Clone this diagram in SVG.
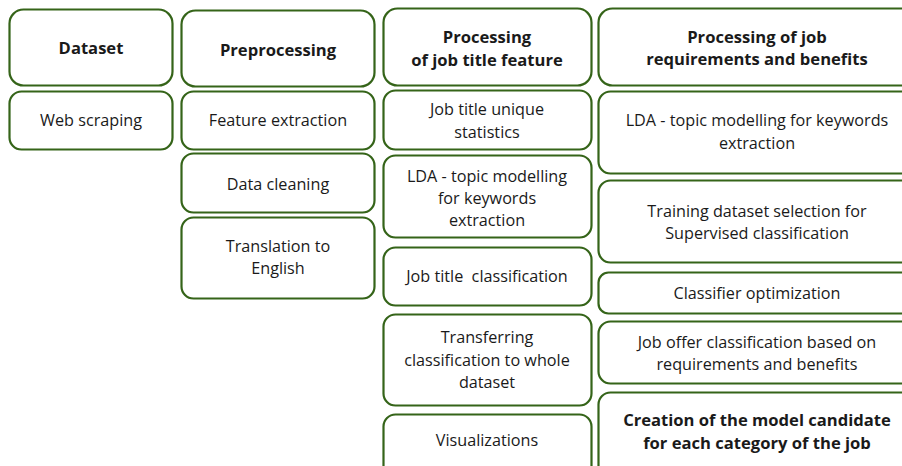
<svg xmlns="http://www.w3.org/2000/svg" width="902" height="466" viewBox="0 0 902 466">
<style>
.b{fill:#fff;stroke:#356419;stroke-width:2.2}
text{font-family:"Open Sans","Noto Sans",sans-serif;font-size:16.2px;fill:#1a1a1a;text-anchor:middle}
.h{font-weight:bold;font-size:16.6px}
</style>
<rect width="902" height="466" fill="#fff"/>
<g id="connectors"/>
<g id="dataset"><rect class="b" x="9.5" y="9.5" width="163" height="76" rx="14"/><text class="h" x="91" y="54">Dataset</text></g>
<g id="web-scraping"><rect class="b" x="9.5" y="91.5" width="163" height="58" rx="12"/><text x="91" y="126">Web scraping</text></g>
<g id="preprocessing"><rect class="b" x="181.5" y="10.5" width="193" height="76" rx="14"/><text class="h" x="278" y="56">Preprocessing</text></g>
<g id="feature-extraction"><rect class="b" x="181.5" y="91.5" width="193" height="58" rx="12"/><text x="278" y="126">Feature extraction</text></g>
<g id="data-cleaning"><rect class="b" x="181.5" y="153.5" width="193" height="59" rx="12"/><text x="278" y="190">Data cleaning</text></g>
<g id="translation"><rect class="b" x="181.5" y="217.5" width="193" height="81" rx="12"/><text x="278" y="252">Translation to</text><text x="278" y="274">English</text></g>
<g id="processing-title"><rect class="b" x="383.5" y="8.5" width="208" height="77" rx="14"/><text class="h" x="487" y="43">Processing</text><text class="h" x="487" y="66">of job title feature</text></g>
<g id="unique-stats"><rect class="b" x="383.5" y="90.5" width="208" height="59" rx="12"/><text x="487" y="115">Job title unique</text><text x="487" y="138">statistics</text></g>
<g id="lda-title"><rect class="b" x="383.5" y="155.5" width="208" height="82" rx="12"/><text x="487" y="182">LDA - topic modelling</text><text x="487" y="204">for keywords</text><text x="487" y="226">extraction</text></g>
<g id="title-classification"><rect class="b" x="383.5" y="247.5" width="208" height="58" rx="12"/><text x="487" y="282" xml:space="preserve">Job title  classification</text></g>
<g id="transferring"><rect class="b" x="383.5" y="314.5" width="208" height="91" rx="12"/><text x="487" y="343">Transferring</text><text x="487" y="366">classification to whole</text><text x="487" y="388">dataset</text></g>
<g id="visualizations"><rect class="b" x="383.5" y="414.5" width="208" height="70" rx="12"/><text x="487" y="446">Visualizations</text></g>
<g id="processing-req"><rect class="b" x="598.5" y="8.5" width="318" height="77" rx="14"/><text class="h" x="757" y="43">Processing of job</text><text class="h" x="757" y="65">requirements and benefits</text></g>
<g id="lda-req"><rect class="b" x="598.5" y="91.5" width="318" height="82" rx="12"/><text x="757" y="126">LDA - topic modelling for keywords</text><text x="757" y="149">extraction</text></g>
<g id="training"><rect class="b" x="598.5" y="180.5" width="318" height="82" rx="12"/><text x="757" y="217">Training dataset selection for</text><text x="757" y="239">Supervised classification</text></g>
<g id="classifier-opt"><rect class="b" x="598.5" y="272.5" width="318" height="41" rx="10"/><text x="757" y="299">Classifier optimization</text></g>
<g id="job-offer"><rect class="b" x="598.5" y="321.5" width="318" height="62" rx="12"/><text x="757" y="348">Job offer classification based on</text><text x="757" y="370">requirements and benefits</text></g>
<g id="creation"><rect class="b" x="598.5" y="392.5" width="318" height="90" rx="12"/><text class="h" x="757" y="426">Creation of the model candidate</text><text class="h" x="757" y="449">for each category of the job</text></g>
</svg>
